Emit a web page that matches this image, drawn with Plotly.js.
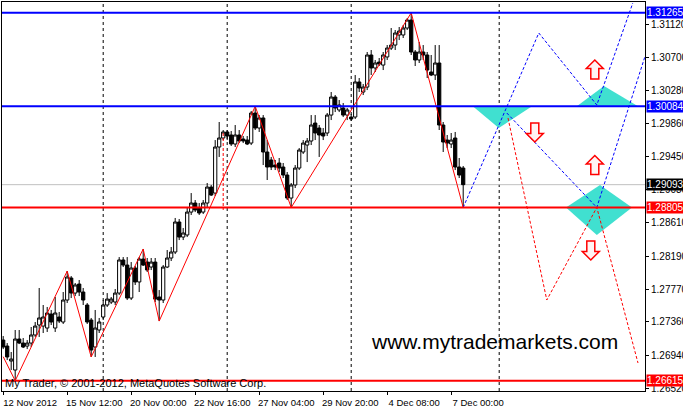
<!DOCTYPE html>
<html><head><meta charset="utf-8">
<script src="https://cdn.plot.ly/plotly-3.0.1.min.js"></script>
<style>html,body{margin:0;padding:0;background:#fff}#chart{width:683px;height:408px}</style>
</head><body><div id="chart"></div>
<script>
const openP = [1.27129,1.27053,1.26864,1.26750,1.27142,1.27091,1.27053,1.27091,1.27193,1.27319,
1.27306,1.27281,1.27458,1.27281,1.27420,1.27357,1.27635,1.27913,1.27723,1.27837,
1.27736,1.27572,1.27382,1.27041,1.27256,1.27420,1.27572,1.27610,1.27610,1.27723,
1.28141,1.28077,1.27660,1.28039,1.27863,1.28153,1.28115,1.28052,1.28115,1.27673,
1.27635,1.28052,1.28166,1.28242,1.28621,1.28431,1.28457,1.28747,1.28861,1.28798,
1.28747,1.28861,1.29063,1.28987,1.29569,1.29683,1.29759,1.29721,1.29607,1.29721,
1.29670,1.29657,1.29619,1.29999,1.29809,1.29936,1.29506,1.29405,1.29341,1.29367,
1.29316,1.29215,1.28924,1.29089,1.29303,1.29506,1.29594,1.29645,1.29872,1.29809,
1.29746,1.29746,1.29973,1.30201,1.30037,1.30062,1.29973,1.29948,1.29948,1.30391,
1.30264,1.30327,1.30732,1.30568,1.30643,1.30605,1.30707,1.30820,1.30858,1.30985,
1.30985,1.31073,1.31174,1.30770,1.30669,1.30770,1.30732,1.30517,1.30479,1.30631,
1.29847,1.29657,1.29607,1.29683,1.29316,1.29303];
const highP = [1.27180,1.27091,1.26978,1.27256,1.27256,1.27155,1.27129,1.27294,1.27357,1.27787,
1.27572,1.27547,1.27509,1.27673,1.27484,1.27736,1.28001,1.27938,1.27850,1.27888,
1.27787,1.27597,1.27408,1.27509,1.27408,1.27635,1.27723,1.27673,1.27774,1.28178,
1.28178,1.28178,1.28115,1.28065,1.28178,1.28280,1.28166,1.28166,1.28166,1.27761,
1.28077,1.28267,1.28305,1.28672,1.28659,1.28545,1.28798,1.28987,1.28899,1.28861,
1.28899,1.29114,1.29089,1.29657,1.29885,1.29784,1.29784,1.29771,1.29847,1.29784,
1.29708,1.29708,1.30024,1.30084,1.29973,1.29973,1.29657,1.29443,1.29405,1.29430,
1.29367,1.29253,1.29114,1.29341,1.29556,1.29657,1.29683,1.29973,1.29973,1.29847,
1.29809,1.29999,1.30264,1.30226,1.30163,1.30125,1.30062,1.29986,1.30479,1.30441,
1.30365,1.30770,1.30795,1.30669,1.30694,1.30770,1.30858,1.31073,1.31048,1.31086,
1.31111,1.31199,1.31265,1.30795,1.30896,1.30858,1.30770,1.30732,1.30858,1.30858,
1.29885,1.29721,1.29746,1.29759,1.29430,1.29329];
const lowP = [1.27015,1.26877,1.26750,1.26615,1.27078,1.27028,1.27015,1.27041,1.27168,1.27168,
1.27218,1.27231,1.27319,1.27231,1.27344,1.27332,1.27597,1.27660,1.27685,1.27685,
1.27572,1.27332,1.26915,1.26915,1.27218,1.27382,1.27547,1.27585,1.27572,1.27698,
1.28052,1.27635,1.27635,1.27825,1.27736,1.28065,1.27989,1.28014,1.27610,1.27369,
1.27597,1.28039,1.28128,1.28216,1.28393,1.28393,1.28431,1.28710,1.28747,1.28710,
1.28722,1.28798,1.28950,1.28950,1.29443,1.29657,1.29657,1.29582,1.29569,1.29619,
1.29619,1.29594,1.29594,1.29784,1.29759,1.29341,1.29152,1.29278,1.29278,1.29253,
1.29177,1.28899,1.28805,1.29051,1.29278,1.29481,1.29379,1.29594,1.29657,1.29443,
1.29657,1.29708,1.29910,1.30011,1.30011,1.29948,1.29910,1.29898,1.29923,1.30264,
1.30226,1.30289,1.30479,1.30517,1.30593,1.30542,1.30669,1.30795,1.30795,1.30921,
1.30947,1.31048,1.30732,1.30593,1.30631,1.30669,1.30441,1.30466,1.30416,1.29784,
1.29506,1.29556,1.29556,1.29278,1.29177,1.28805];
const closeP = [1.27041,1.26915,1.26889,1.27142,1.27091,1.27041,1.27091,1.27193,1.27306,1.27408,
1.27420,1.27471,1.27357,1.27471,1.27369,1.27635,1.27926,1.27723,1.27825,1.27736,
1.27635,1.27357,1.27003,1.27281,1.27357,1.27572,1.27647,1.27647,1.27723,1.28141,
1.28077,1.27660,1.28039,1.27863,1.28153,1.28077,1.28014,1.28115,1.27647,1.27635,
1.28052,1.28166,1.28242,1.28621,1.28431,1.28482,1.28747,1.28861,1.28773,1.28735,
1.28861,1.29063,1.28962,1.29569,1.29683,1.29759,1.29708,1.29607,1.29721,1.29645,
1.29645,1.29607,1.29999,1.29809,1.29936,1.29506,1.29316,1.29316,1.29316,1.29303,
1.29215,1.28924,1.29089,1.29303,1.29531,1.29619,1.29645,1.29847,1.29746,1.29721,
1.29708,1.29973,1.30201,1.30062,1.30100,1.29973,1.30037,1.29923,1.30391,1.30315,
1.30327,1.30732,1.30568,1.30631,1.30618,1.30732,1.30820,1.30858,1.31010,1.31035,
1.31073,1.31174,1.30770,1.30669,1.30770,1.30732,1.30542,1.30479,1.30631,1.29847,
1.29632,1.29619,1.29657,1.29316,1.29215,1.29093];
const barIdx = openP.map((_, i) => i);

const tickBars = [0, 16, 32, 48, 64, 80, 96, 112];
const tickLabels = ["12 Nov 2012","15 Nov 12:00","20 Nov 00:00","22 Nov 16:00","27 Nov 04:00","29 Nov 20:00","4 Dec 08:00","7 Dec 00:00"];
const priceTicks = [1.31120,1.30700,1.30280,1.29860,1.29450,1.29030,1.28610,1.28190,1.27770,1.27360,1.26940,1.26520];
const gridBars = [25, 56, 87, 124];

const zigBars = [0, 3, 16, 22, 35, 39, 63, 72, 102, 115];
const zigPrices = [1.26919,1.26615,1.28001,1.26915,1.28280,1.27369,1.30084,1.28805,1.31265,1.28805];
const repaintBars = [55, 55];
const repaintPrices = [1.29746, 1.28773];

const blueA_bars = [115, 133.9, 148.4, 157.4];
const blueA_prices = [1.28805, 1.31010, 1.30100, 1.31389];
const blueB_bars = [125.9, 148.4, 160.4];
const blueB_prices = [1.29999, 1.28805, 1.30707];
const redC_bars = [126.2, 135.9, 148.4, 158.7];
const redC_prices = [1.29936, 1.27635, 1.28805, 1.26839];

const triBars = [[117.4,132.2,123.9],[143.4,158.7,150.2],[140.7,157.2,149.2],[140.7,157.2,148.4]];
const triPrices = [[1.30084,1.30084,1.29809],[1.30084,1.30084,1.30340],[1.28805,1.28805,1.29089],[1.28805,1.28805,1.28457]];

const arrowBars = [147.9, 132.9, 147.9, 146.9];
const arrowPrices = [1.30549, 1.29752, 1.29341, 1.28261];
const arrowDirs = [1, -1, 1, -1];

const levelPrices = [1.31265, 1.30084, 1.28805, 1.26615];
const levelColors = ["#0000FF", "#0000FF", "#FF0000", "#FF0000"];
const currentPrice = 1.29093;

const FONT = "Liberation Sans, Arial, sans-serif";
const traces = [];
triBars.forEach((tb, i) => {
  traces.push({type:'scatter', mode:'lines', x:[...tb, tb[0]], y:[...triPrices[i], triPrices[i][0]],
    fill:'toself', fillcolor:'#40E0D0', line:{width:0, color:'#40E0D0'}, hoverinfo:'skip', showlegend:false});
});
traces.push({type:'candlestick', x:barIdx, open:openP, high:highP, low:lowP, close:closeP,
  increasing:{line:{color:'#000000', width:1}, fillcolor:'#FFFFFF'},
  decreasing:{line:{color:'#000000', width:1}, fillcolor:'#000000'},
  whiskerwidth:0, hoverinfo:'skip', showlegend:false});
traces.push({type:'scatter', mode:'lines', x:zigBars, y:zigPrices, line:{color:'#FF0000', width:1}, hoverinfo:'skip', showlegend:false});
traces.push({type:'scatter', mode:'lines', x:repaintBars, y:repaintPrices, line:{color:'#FF0000', width:1, dash:'3px,2px'}, hoverinfo:'skip', showlegend:false});
traces.push({type:'scatter', mode:'lines', x:blueA_bars, y:blueA_prices, line:{color:'#0000FF', width:1, dash:'3px,2px'}, hoverinfo:'skip', showlegend:false});
traces.push({type:'scatter', mode:'lines', x:blueB_bars, y:blueB_prices, line:{color:'#0000FF', width:1, dash:'3px,2px'}, hoverinfo:'skip', showlegend:false});
traces.push({type:'scatter', mode:'lines', x:redC_bars, y:redC_prices, line:{color:'#FF0000', width:1, dash:'3px,2px'}, hoverinfo:'skip', showlegend:false});

const shapes = [];
gridBars.forEach(b => shapes.push({type:'line', xref:'x', yref:'paper', x0:b, x1:b, y0:0, y1:1, layer:'below',
  line:{color:'#000000', width:1, dash:'3px,3px'}}));
shapes.push({type:'line', xref:'paper', yref:'y', x0:0, x1:1, y0:currentPrice, y1:currentPrice, layer:'below',
  line:{color:'#C0C0C0', width:1}});
levelPrices.forEach((p, i) => shapes.push({type:'line', xref:'paper', yref:'y', x0:0, x1:1, y0:p, y1:p, layer:'above',
  line:{color:levelColors[i], width:2}}));
arrowBars.forEach((b, i) => {
  const d = arrowDirs[i];
  const pts = [[0,9.5],[8.5,1],[4,1],[4,-9.5],[-4,-9.5],[-4,1],[-8.5,1]];
  const path = 'M' + pts.map(p => p[0] + ',' + (p[1]*d)).join(' L') + ' Z';
  shapes.push({type:'path', xref:'x', yref:'y', xsizemode:'pixel', ysizemode:'pixel', xanchor:b, yanchor:arrowPrices[i],
    path:path, layer:'above', line:{color:'#FF0000', width:1.5}, fillcolor:'#FFF4F4'});
});

const annotations = [];
const labelPrices = [...levelPrices, currentPrice];
const labelColors = [...levelColors, '#000000'];
labelPrices.forEach((p, i) => annotations.push({xref:'paper', yref:'y', x:1, y:p, xanchor:'left', yanchor:'middle', xshift:1,
  text:p.toFixed(5), showarrow:false, bgcolor:labelColors[i], borderpad:0, font:{family:FONT, size:10, color:'#FFFFFF'}}));
annotations.push({xref:'paper', yref:'paper', x:0.766, y:0.126, xanchor:'center', yanchor:'middle', showarrow:false,
  text:'www.mytrademarkets.com', font:{family:FONT, size:21, color:'#000000'}});
annotations.push({xref:'paper', yref:'paper', x:0, y:0.0206, xanchor:'left', yanchor:'middle', xshift:1, showarrow:false,
  text:'My Trader, © 2001-2012, MetaQuotes Software Corp.', font:{family:FONT, size:11, color:'#000000'}});

const layout = {
  width:683, height:408,
  margin:{l:2, r:38, t:2, b:17, pad:0},
  paper_bgcolor:'#FFFFFF', plot_bgcolor:'#FFFFFF',
  showlegend:false,
  boxgap:0.1, boxgroupgap:0.1,
  font:{family:FONT, size:10, color:'#000000'},
  xaxis:{range:[-0.3, 160.45], tickmode:'array', tickvals:tickBars, ticktext:tickLabels,
    ticks:'outside', ticklen:3, tickcolor:'#000', showgrid:false, zeroline:false,
    showline:true, mirror:true, linecolor:'#000', linewidth:1,
    rangeslider:{visible:false}, ticklabelshift:27, tickfont:{family:FONT, size:9.5, color:'#000'}, fixedrange:true},
  yaxis:{side:'right', range:[1.26485, 1.31402], tickmode:'array', tickvals:priceTicks,
    ticktext:priceTicks.map(v => v.toFixed(5)),
    ticks:'outside', ticklen:3, tickcolor:'#000', showgrid:false, zeroline:false,
    showline:true, mirror:true, linecolor:'#000', linewidth:1,
    tickfont:{family:FONT, size:10, color:'#000'}, fixedrange:true},
  shapes:shapes,
  annotations:annotations
};
Plotly.newPlot('chart', traces, layout, {staticPlot:true, displayModeBar:false});
</script>
</body></html>
